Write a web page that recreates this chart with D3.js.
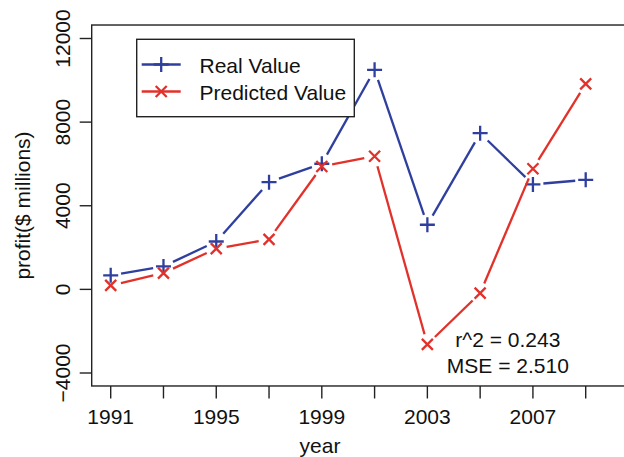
<!DOCTYPE html>
<html>
<head>
<meta charset="utf-8">
<script src="https://cdn.jsdelivr.net/npm/d3@7"></script>
<style>
  body { margin: 0; background: #fff; }
  text { font-family: "Liberation Sans", Arial, sans-serif; fill: #111; }
</style>
</head>
<body>
<div id="chart"></div>
<script>
const years = [1991, 1993, 1995, 1997, 1999, 2001, 2003, 2005, 2007, 2009]
const realValue = [670, 1100, 2290, 5130, 6010, 10500, 3090, 7470, 5020, 5240]
const predictedValue = [190, 780, 1950, 2390, 5880, 6370, -2630, -180, 5770, 9830]
const yTicks = [-4000, 0, 4000, 8000, 12000]
const xLabels = [1991, 1995, 1999, 2003, 2007]
const seriesNames = ["Real Value", "Predicted Value"]
const stats = ["r^2 = 0.243", "MSE = 2.510"]
const statsPos = [[2006.05, -2760], [2006.05, -4010]]

const W = 624, H = 457
const blue = "#2f3f9e", red = "#e2312a"
const gap = 10.5
const fs = "21px"

let x = d3.scaleLinear().domain([1991, 2009]).range([110.7, 585.7])
let y = d3.scaleLinear().domain([-4000, 12000]).range([373, 38.5])

let svg = d3.select("#chart").append("svg")
  .attr("width", W).attr("height", H)

// plot frame (runs past the right edge, as in the source image)
const fx0 = x(1990.28), fy0 = y(12645), fy1 = y(-4621)
svg.append("rect")
  .attr("x", fx0).attr("y", fy0)
  .attr("width", W + 10 - fx0).attr("height", fy1 - fy0)
  .attr("fill", "none").attr("stroke", "#222").attr("stroke-width", 1.4)

// x axis
svg.selectAll(".xtick").data(years).enter().append("line")
  .attr("x1", d => x(d)).attr("x2", d => x(d))
  .attr("y1", fy1).attr("y2", fy1 + 12.5)
  .attr("stroke", "#222").attr("stroke-width", 1.4)
svg.selectAll(".xlab").data(xLabels).enter().append("text")
  .attr("x", d => x(d)).attr("y", 424)
  .attr("text-anchor", "middle").style("font-size", fs)
  .text(d => d)
svg.append("text").attr("x", 320).attr("y", 453)
  .attr("text-anchor", "middle").style("font-size", fs).text("year")

// y axis
svg.selectAll(".ytick").data(yTicks).enter().append("line")
  .attr("x1", fx0 - 12).attr("x2", fx0)
  .attr("y1", d => y(d)).attr("y2", d => y(d))
  .attr("stroke", "#222").attr("stroke-width", 1.4)
svg.selectAll(".ylab").data(yTicks).enter().append("text")
  .attr("transform", d => "translate(70," + y(d) + ") rotate(-90)")
  .attr("text-anchor", "middle").style("font-size", fs)
  .text(d => d < 0 ? "\u2212" + Math.abs(d) : d)
svg.append("text")
  .attr("transform", "translate(30," + (fy0 + fy1) / 2 + ") rotate(-90)")
  .attr("text-anchor", "middle").style("font-size", fs)
  .text("profit($ millions)")

// lines with gaps around points (type = "b")
const drawSeries = (vals, color, marker) => {
  let pts = years.map((d, i) => [x(d), y(vals[i])])
  let g = svg.append("g").attr("stroke", color).attr("stroke-width", 2.3).attr("fill", "none")
  for (let i = 0; i < pts.length - 1; i++) {
    let [x1, y1] = pts[i], [x2, y2] = pts[i + 1]
    let len = Math.hypot(x2 - x1, y2 - y1)
    if (len <= 2 * gap) continue
    let ux = (x2 - x1) / len, uy = (y2 - y1) / len
    g.append("line")
      .attr("x1", x1 + ux * gap).attr("y1", y1 + uy * gap)
      .attr("x2", x2 - ux * gap).attr("y2", y2 - uy * gap)
  }
  pts.forEach(p => marker(g, p[0], p[1]))
}
const plus = (g, cx, cy) => {
  g.append("path").attr("d", `M${cx - 7.5},${cy}H${cx + 7.5}M${cx},${cy - 7.5}V${cy + 7.5}`)
}
const cross = (g, cx, cy) => {
  const r = 5.5
  g.append("path").attr("d", `M${cx - r},${cy - r}L${cx + r},${cy + r}M${cx - r},${cy + r}L${cx + r},${cy - r}`)
}
drawSeries(realValue, blue, plus)
drawSeries(predictedValue, red, cross)

// legend
let lg = svg.append("g")
lg.append("rect").attr("x", 136.7).attr("y", 39.3).attr("width", 217.6).attr("height", 77.4)
  .attr("fill", "#fff").attr("stroke", "#222").attr("stroke-width", 1.4)
const legendRows = [[blue, plus, 64.5], [red, cross, 91.5]]
legendRows.forEach(([c, m, ly], i) => {
  let g = lg.append("g").attr("stroke", c).attr("stroke-width", 2.3).attr("fill", "none")
  g.append("line").attr("x1", 141.7).attr("x2", 180.7).attr("y1", ly).attr("y2", ly)
  m(g, 161.2, ly)
  lg.append("text").attr("x", 199.5).attr("y", ly + 8).style("font-size", fs).text(seriesNames[i])
})

// fit statistics
svg.selectAll(".stat").data(stats).enter().append("text")
  .attr("x", (d, i) => x(statsPos[i][0])).attr("y", (d, i) => y(statsPos[i][1]))
  .attr("text-anchor", "middle").style("font-size", fs)
  .text(d => d)
</script>
</body>
</html>
